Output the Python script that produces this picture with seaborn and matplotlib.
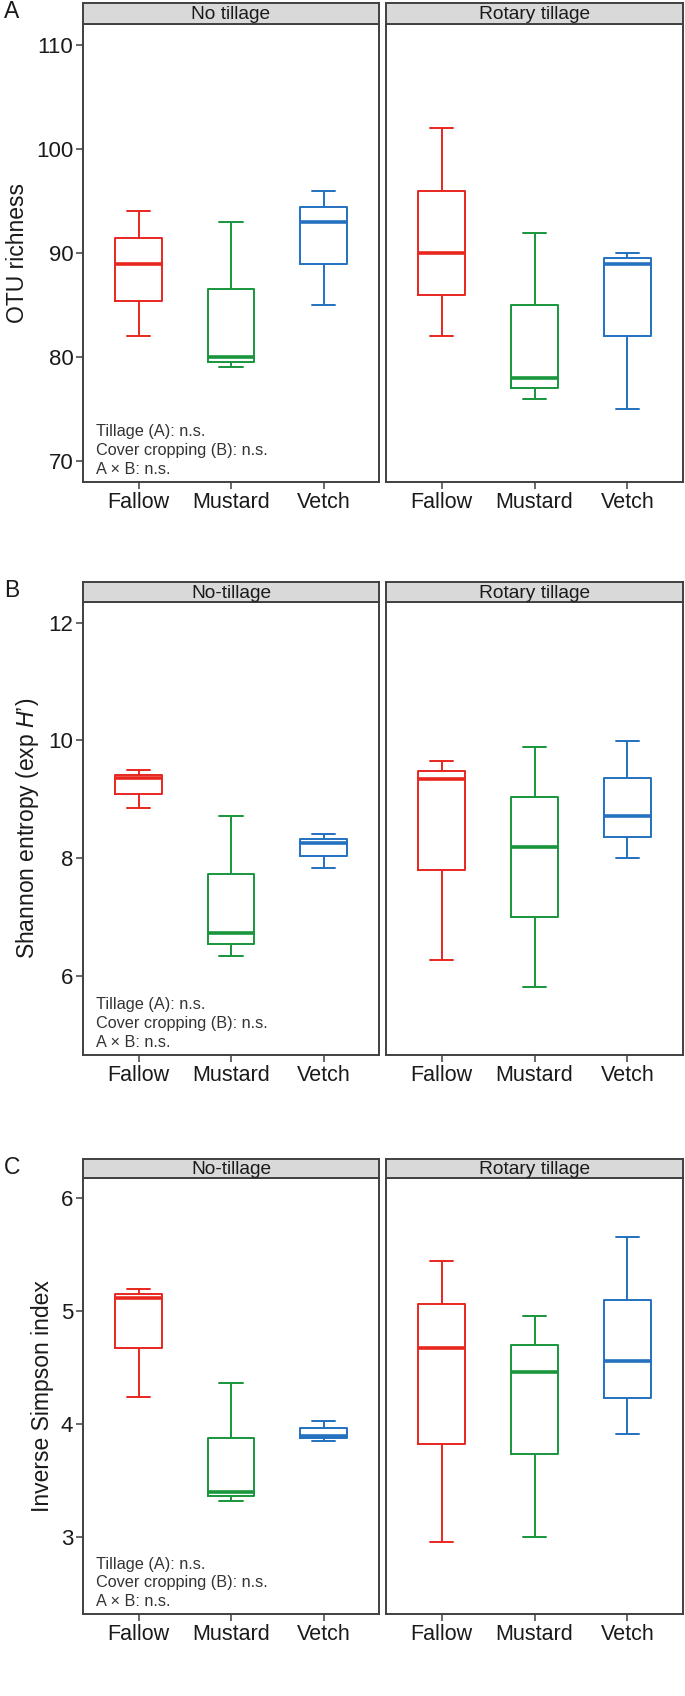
import matplotlib
matplotlib.use("Agg")
import matplotlib.pyplot as plt
import pandas as pd
import seaborn as sns

# five values per group: min, Q1, median, Q3, max
crops = ["Fallow", "Mustard", "Vetch"]
crop_colors = ["#e8261e", "#17963c", "#2471c0"]

richness_no = [[82, 85.4, 88.9, 91.4, 94], [79, 79.5, 80, 86.5, 93], [85, 88.9, 93, 94.4, 96]]
richness_rot = [[82, 86, 90, 96, 102], [76, 77, 78, 85, 91.9], [75, 82, 88.9, 89.5, 90]]

shannon_no = [[8.84, 9.08, 9.35, 9.41, 9.49], [6.34, 6.53, 6.73, 7.72, 8.71], [7.83, 8.03, 8.25, 8.33, 8.41]]
shannon_rot = [[6.27, 7.8, 9.34, 9.48, 9.64], [5.81, 7.0, 8.18, 9.04, 9.89], [8.0, 8.35, 8.71, 9.35, 9.99]]

simpson_no = [[4.24, 4.67, 5.11, 5.15, 5.19], [3.32, 3.36, 3.40, 3.88, 4.36], [3.85, 3.875, 3.89, 3.96, 4.03]]
simpson_rot = [[2.955, 3.82, 4.67, 5.06, 5.44], [3.0, 3.73, 4.46, 4.70, 4.95], [3.91, 4.23, 4.56, 5.10, 5.65]]

stats_text = "Tillage (A): n.s.\nCover cropping (B): n.s.\nA \u00d7 B: n.s."

sns.set_theme(style="white")
plt.rcParams["font.family"] = ["Liberation Sans", "DejaVu Sans"]
plt.rcParams["mathtext.fontset"] = "custom"
plt.rcParams["mathtext.rm"] = "Liberation Sans"
plt.rcParams["mathtext.it"] = "Liberation Sans:italic"

W, H = 685, 1696
fig = plt.figure(figsize=(W / 100, H / 100), dpi=100)
edge = "#404040"


def px_axes(x0, y0, x1, y1):
    return fig.add_axes([x0 / W, 1 - y1 / H, (x1 - x0) / W, (y1 - y0) / H])


def to_frame(groups):
    rows = []
    for crop, vals in zip(crops, groups):
        for v in vals:
            rows.append({"crop": crop, "value": v})
    return pd.DataFrame(rows)


rows = [
    ("A", "OTU richness", (68, 112), [70, 80, 90, 100, 110],
     ["No tillage", "Rotary tillage"], richness_no, richness_rot, 3, 24, 482),
    ("B", "Shannon entropy (exp $\\mathit{H}$\u2019)", (4.65, 12.35), [6, 8, 10, 12],
     ["No-tillage", "Rotary tillage"], shannon_no, shannon_rot, 582, 602, 1055),
    ("C", "Inverse Simpson index", (2.32, 6.174), [3, 4, 5, 6],
     ["No-tillage", "Rotary tillage"], simpson_no, simpson_rot, 1159, 1178, 1614),
]

cols = [(83, 379), (386, 683)]

for letter, ylabel, ylim, yticks, strips, d_no, d_rot, s_top, p_top, p_bot in rows:
    for j, (data, strip) in enumerate(zip([d_no, d_rot], strips)):
        x0, x1 = cols[j]
        ax = px_axes(x0, p_top, x1, p_bot)
        df = to_frame(data)
        sns.boxplot(data=df, x="crop", y="value", hue="crop", order=crops,
                    hue_order=crops, palette=crop_colors, fill=False,
                    width=0.5, whis=(0, 100), linewidth=1.4, legend=False,
                    medianprops={"linewidth": 2.6}, ax=ax)
        ax.set_xlim(-0.6, 2.6)
        ax.set_ylim(*ylim)
        ax.set_yticks(yticks)
        ax.set_xlabel("")
        ax.set_ylabel("")
        for sp in ax.spines.values():
            sp.set_visible(True)
            sp.set_color(edge)
            sp.set_linewidth(1.4)
        ax.tick_params(axis="x", bottom=True, length=5, width=1.1, color=edge,
                       labelsize=15.5, labelcolor="#1a1a1a", pad=2)
        if j == 0:
            ax.tick_params(axis="y", left=True, length=5, width=1.1, color=edge,
                           labelsize=16, labelcolor="#1a1a1a", pad=2)
            ax.set_ylabel(ylabel, fontsize=16.5, color="#1a1a1a", labelpad=5)
            ax.text(0.043, 0.012, stats_text, transform=ax.transAxes,
                    ha="left", va="bottom", fontsize=11.7, color="#333333",
                    linespacing=1.3)
            fig.text(4 / W, 1 - (s_top + 8) / H, letter, fontsize=16.5,
                     color="#1a1a1a", ha="left", va="center")
        else:
            ax.tick_params(axis="y", left=False, labelleft=False)
        # facet strip
        sax = px_axes(x0, s_top, x1, p_top)
        sax.set_facecolor("#d9d9d9")
        sax.set_xticks([])
        sax.set_yticks([])
        for sp in sax.spines.values():
            sp.set_visible(True)
            sp.set_color(edge)
            sp.set_linewidth(1.4)
        sax.text(0.5, 0.45, strip, transform=sax.transAxes, ha="center",
                 va="center", fontsize=13.8, color="#1a1a1a")

fig.savefig("out.png", dpi=100)
